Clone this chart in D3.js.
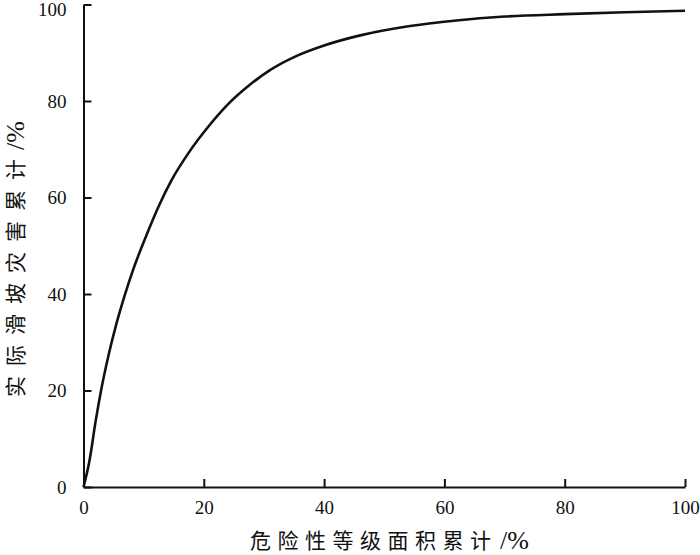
<!DOCTYPE html>
<html><head><meta charset="utf-8">
<script src="https://cdn.jsdelivr.net/npm/d3@7"></script>
<style>body{margin:0;background:#fff}</style>
</head><body>
<svg id="c" width="700" height="555"></svg>
<script>
const areaPct = [0, 1.0, 2.0, 3.0, 4.2, 5.4, 6.8, 8.3, 10.5, 12.5, 14.6, 17.5, 20.7, 24, 27.5, 31, 35, 40, 46, 54, 62, 70, 80, 90, 100];
const slidePct = [0, 5.5, 13.5, 20.5, 27.5, 33.5, 39.5, 45.2, 52.3, 58.2, 63.5, 69.3, 74.6, 79.3, 83.2, 86.4, 89.1, 91.5, 93.6, 95.5, 96.7, 97.5, 98.0, 98.4, 98.7];
const xTicks = [0, 20, 40, 60, 80, 100];
const yTicks = [0, 20, 40, 60, 80, 100];
const xTitleMain = "危险性等级面积累计";
const yTitleMain = "实际滑坡灾害累计";
const unitText = "/%";

const svg = d3.select("#c");
const x = d3.scaleLinear().domain([0, 100]).range([83.5, 685]);
const y = d3.scaleLinear().domain([0, 100]).range([487, 4.5]);
const numFont = "'Liberation Serif', 'Times New Roman', serif";
const cjkFont = "'Noto Sans CJK SC', sans-serif";

const xa = svg.append("g").attr("transform", `translate(0,${y(0)})`)
  .call(d3.axisBottom(x).tickValues(xTicks).tickSizeInner(-8).tickSizeOuter(0).tickPadding(18));
const ya = svg.append("g").attr("transform", `translate(${x(0)},0)`)
  .call(d3.axisLeft(y).tickValues(yTicks).tickSizeInner(-8).tickSizeOuter(0).tickPadding(17));
[xa, ya].forEach(a => {
  a.select(".domain").attr("stroke", "#111").attr("stroke-width", 2);
  a.selectAll(".tick line").attr("stroke", "#111").attr("stroke-width", 2);
  a.selectAll(".tick text").attr("font-family", numFont).attr("font-size", 19).attr("fill", "#111");
});
xa.selectAll(".tick text").attr("dy", "0.45em");
ya.selectAll(".tick text").filter(d => d === 100).attr("dy", "0.6em");

svg.append("path")
  .datum(areaPct.map((v, i) => [v, slidePct[i]]))
  .attr("fill", "none").attr("stroke", "#111").attr("stroke-width", 2.6)
  .attr("stroke-linejoin", "round")
  .attr("d", d3.line().x(d => x(d[0])).y(d => y(d[1])).curve(d3.curveMonotoneX));

svg.append("text").attr("x", 250).attr("y", 548)
  .attr("font-family", cjkFont).attr("font-size", 21).attr("fill", "#111")
  .attr("textLength", 241).attr("lengthAdjust", "spacing").text(xTitleMain);
svg.append("text").attr("x", 500).attr("y", 549)
  .attr("font-family", numFont).attr("font-size", 26).attr("fill", "#111").text(unitText);

svg.append("text").attr("transform", "translate(23,397) rotate(-90)")
  .attr("font-family", cjkFont).attr("font-size", 21).attr("fill", "#111")
  .attr("textLength", 238).attr("lengthAdjust", "spacing").text(yTitleMain);
svg.append("text").attr("transform", "translate(24,150) rotate(-90)")
  .attr("font-family", numFont).attr("font-size", 26).attr("fill", "#111").text(unitText);
</script>
</body></html>
